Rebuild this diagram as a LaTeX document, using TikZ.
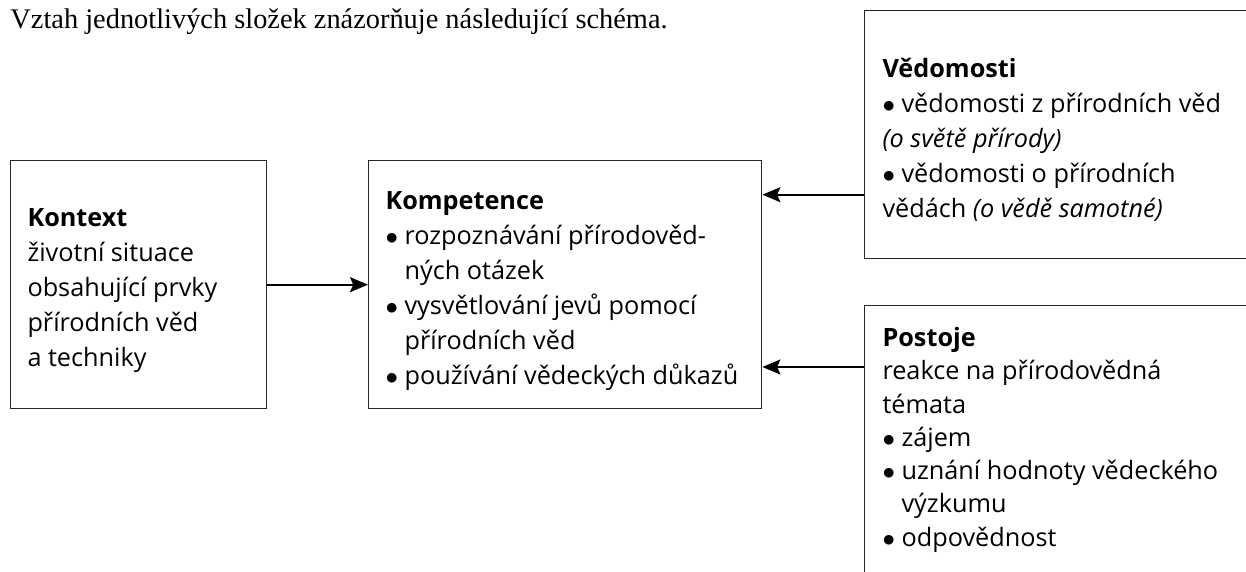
\documentclass[tikz,border=0pt]{standalone}
\usepackage{fontspec}
\setmainfont{Open Sans}
\newfontfamily\titlefont{Liberation Serif}
\usetikzlibrary{arrows.meta,calc}

\tikzset{
  box/.style={draw=black!85, line width=0.55pt, rectangle, inner sep=0pt, anchor=north west},
  boxtext/.style={align=left, inner sep=0pt, font=\fontsize{10.1}{14}\selectfont},
  arr/.style={line width=0.8pt, -{Stealth[length=7.2pt,width=6pt,inset=1.3pt]}},
}
\newcommand{\bul}{$\bullet$\ }
\newcommand{\ind}{\hphantom{$\bullet$\ }}

\begin{document}
\begin{tikzpicture}[x=0.4pt,y=-0.4pt]
        \useasboundingbox (0,0) rectangle (1246,572);
        \clip (0,0) rectangle (1246,572);

        \node[anchor=base west, inner sep=0pt, font=\titlefont\fontsize{11.35}{13}\selectfont] (title) at (10,29)
            {Vztah jednotlivých složek znázorňuje následující schéma.};

        % boxes
        \node[box, minimum width=102.4pt, minimum height=99.2pt] (kon) at (10,160) {};
        \node[box, minimum width=157.2pt, minimum height=99.2pt] (komp) at (368,160) {};
        \node[box, minimum width=180pt, minimum height=99.2pt] (ved) at (864,10) {};
        \node[box, minimum width=180pt, minimum height=120pt] (pos) at (864,305) {};

        % texts
        \node[boxtext, anchor=west] (kon-txt) at ($(kon.west)+(17,6)$)
            {\textbf{Kontext}\\
             životní situace\\
             obsahující prvky\\
             přírodních věd\\
             a techniky};
        \node[boxtext, anchor=west] (komp-txt) at ($(komp.west)+(17,6)$)
            {\textbf{Kompetence}\\
             \bul rozpoznávání přírodověd-\\
             \ind ných otázek\\
             \bul vysvětlování jevů pomocí\\
             \ind přírodních věd\\
             \bul používání vědeckých důkazů};
        \node[boxtext, anchor=west] (ved-txt) at ($(ved.west)+(18,5)$)
            {\textbf{Vědomosti}\\
             \bul vědomosti z přírodních věd\\
             \textit{(o světě přírody)}\\
             \bul vědomosti o přírodních\\
             vědách \textit{(o vědě samotné)}};
        \node[boxtext, anchor=north west, font=\fontsize{10.1}{13.3}\selectfont] (pos-txt) at ($(pos.north west)+(18,22)$)
            {\textbf{Postoje}\\
             reakce na přírodovědná\\
             témata\\
             \bul zájem\\
             \bul uznání hodnoty vědeckého\\
             \ind výzkumu\\
             \bul odpovědnost};

        % arrows
        \coordinate (ved-out) at ($(ved.west)+(0,60)$);
        \coordinate (pos-out) at ($(pos.north west)+(0,62)$);
        \draw[arr] (kon.east) -- (komp.west);
        \draw[arr] (ved-out) -- (ved-out -| komp.east);
        \draw[arr] (pos-out) -- (pos-out -| komp.east);
\end{tikzpicture}
\end{document}
